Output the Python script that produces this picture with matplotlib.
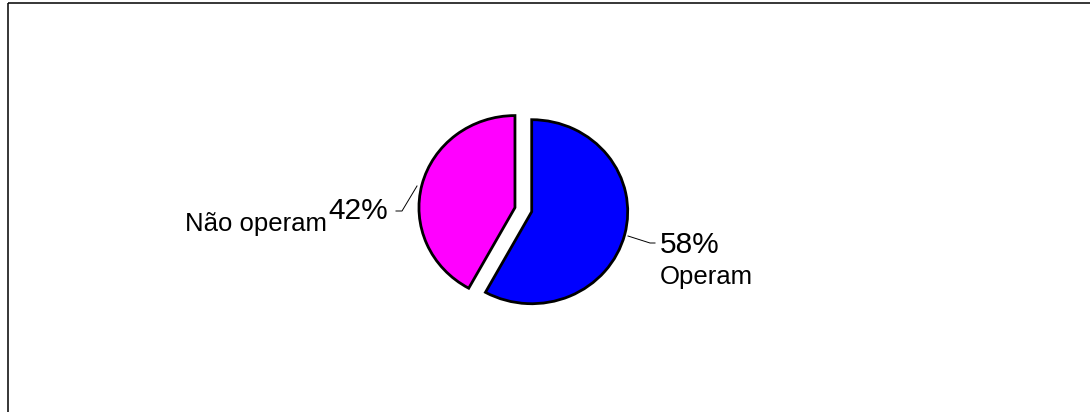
import matplotlib
matplotlib.use("Agg")
import matplotlib.pyplot as plt

# Data
categories = ["Não operam", "Operam"]
values = [42, 58]
colors = ["#FF00FF", "#0000FF"]
explode = [0.18, 0.0]

W, H, DPI = 1090, 412, 100
fig = plt.figure(figsize=(W / DPI, H / DPI), dpi=DPI)
fig.patch.set_facecolor("white")

# Overlay axes in pixel coordinates (y downwards) for frame, labels, leaders
ov = fig.add_axes([0, 0, 1, 1])
ov.set_xlim(0, W)
ov.set_ylim(H, 0)
ov.axis("off")

# Frame (left and top border)
ov.plot([8, 8], [3, H + 5], color="black", lw=1.1, solid_capstyle="butt")
ov.plot([8, W + 5], [3, 3], color="black", lw=1.1, solid_capstyle="butt")

# Pie axes: centre at pixel (531.7, 211.7), rx=96 px, ry=92 px
cx, cy = 531.7, 211.7
rx, ry = 96.0, 92.0
lim = 1.3
aw, ah = 2 * lim * rx, 2 * lim * ry
pax = fig.add_axes([(cx - aw / 2) / W, 1 - (cy + ah / 2) / H, aw / W, ah / H])
pax.pie(values, colors=colors, explode=explode, startangle=90, counterclock=True,
        wedgeprops=dict(edgecolor="black", linewidth=2.0))
pax.set_aspect("auto")
pax.set_xlim(-lim, lim)
pax.set_ylim(-lim, lim)
pax.axis("off")

# Leader lines
ov.plot([396, 402, 417], [211, 211, 186], color="black", lw=0.7)
ov.plot([628, 650, 655], [236, 243, 243], color="black", lw=0.7)

font = "Liberation Sans"
# Labels
ov.text(185, 231, categories[0], fontsize=18.5, family=font, ha="left", va="baseline")
ov.text(328, 219, f"{values[0]}%", fontsize=21.5, family=font, ha="left", va="baseline")
ov.text(660, 253, f"{values[1]}%", fontsize=21.5, family=font, ha="left", va="baseline")
ov.text(660, 284, categories[1], fontsize=18.5, family=font, ha="left", va="baseline")

fig.savefig("out.png", dpi=DPI, facecolor="white")
